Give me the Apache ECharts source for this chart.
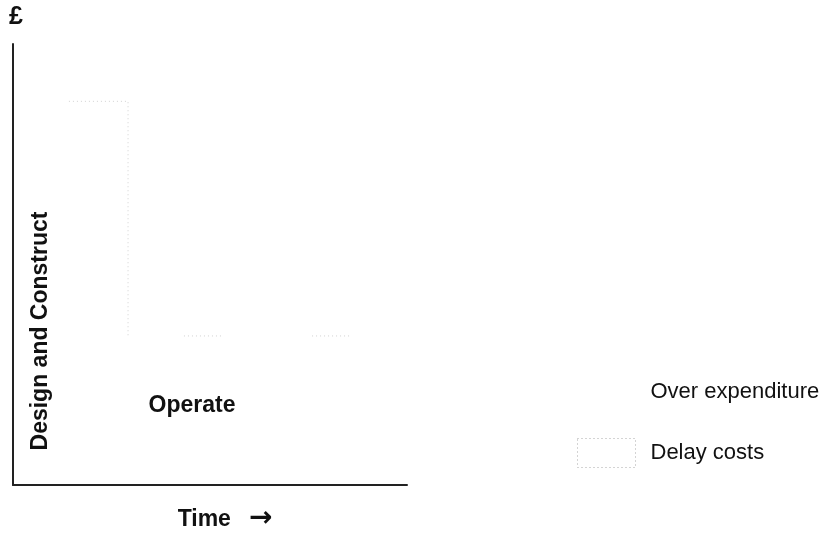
<!DOCTYPE html>
<html>
<head>
<meta charset="utf-8">
<script src="https://cdn.jsdelivr.net/npm/echarts@6/dist/echarts.min.js"></script>
<style>
  html, body { margin: 0; padding: 0; background: #fff; }
  #main { width: 832px; height: 538px; }
</style>
</head>
<body>
<div id="main"></div>
<script>
// phases and legend names
var phases = ["Design and Construct", "Operate"];
var legendNames = ["Over expenditure", "Delay costs"];

// visible parts of the dotted delay-cost outline (time, £), as left in the scan
var delayTopX = [14.2, 29.2, 29.2];
var delayTopY = [87, 87, 33.8];
var delayTailX = [[43.4, 53.3], [75.9, 86]];
var delayTailY = 33.8;

var font = "Liberation Sans, Arial, sans-serif";
var dotted = { color: "#a8a8a8", width: 1, type: [1, 3] };

var mychart = echarts.init(document.getElementById("main"));

var lineData = [
  { coords: delayTopX.map(function (x, i) { return [x, delayTopY[i]]; }) }
];
delayTailX.forEach(function (seg) {
  lineData.push({ coords: [[seg[0], delayTailY], [seg[1], delayTailY]] });
});

mychart.setOption({
  animation: false,
  grid: { left: 13, top: 44, right: 425, bottom: 47 },
  xAxis: {
    type: "value",
    min: 0,
    max: 100,
    name: "{t|Time}{a|\u2192}",
    nameLocation: "middle",
    nameGap: 20,
    nameTextStyle: {
      padding: [0, 0, 0, 30],
      rich: {
        t: { fontSize: 23, fontWeight: "bold", color: "#111", fontFamily: font, padding: [0, 18, 0, 0] },
        a: { fontSize: 28, fontWeight: "bold", color: "#111", fontFamily: "DejaVu Sans", padding: [0, 0, 2, 0] }
      }
    },
    axisLine: { lineStyle: { color: "#222", width: 2 } },
    axisTick: { show: false },
    axisLabel: { show: false },
    splitLine: { show: false }
  },
  yAxis: {
    type: "value",
    min: 0,
    max: 100,
    name: "\u00a3",
    nameLocation: "end",
    nameGap: 14,
    nameTextStyle: { fontSize: 25, fontWeight: "bold", color: "#111", fontFamily: font, align: "left", padding: [0, 0, 0, -4] },
    axisLine: { show: true, lineStyle: { color: "#222", width: 2 } },
    axisTick: { show: false },
    axisLabel: { show: false },
    splitLine: { show: false }
  },
  legend: {
    orient: "vertical",
    left: 572,
    top: 372,
    itemWidth: 58,
    itemHeight: 29,
    itemGap: 32,
    selectedMode: false,
    textStyle: { fontSize: 22, color: "#111", fontFamily: font, padding: [0, 0, 0, 10] },
    data: [
      { name: legendNames[0], icon: "rect", itemStyle: { color: "transparent", borderWidth: 0 } },
      { name: legendNames[1], icon: "rect", itemStyle: { color: "transparent", borderColor: "#a8a8a8", borderWidth: 1, borderType: [1, 3] } }
    ]
  },
  graphic: [
    {
      type: "text",
      x: 41,
      y: 331,
      rotation: Math.PI / 2,
      style: { text: phases[0], font: "bold 23px " + font, fill: "#111", align: "center", verticalAlign: "middle" }
    },
    {
      type: "text",
      x: 192,
      y: 406,
      style: { text: phases[1], font: "bold 23px " + font, fill: "#111", align: "center", verticalAlign: "middle" }
    }
  ],
  series: [
    { name: legendNames[0], type: "line", data: [] },
    {
      name: legendNames[1],
      type: "lines",
      coordinateSystem: "cartesian2d",
      polyline: true,
      silent: true,
      lineStyle: dotted,
      data: lineData
    }
  ]
});
</script>
</body>
</html>
